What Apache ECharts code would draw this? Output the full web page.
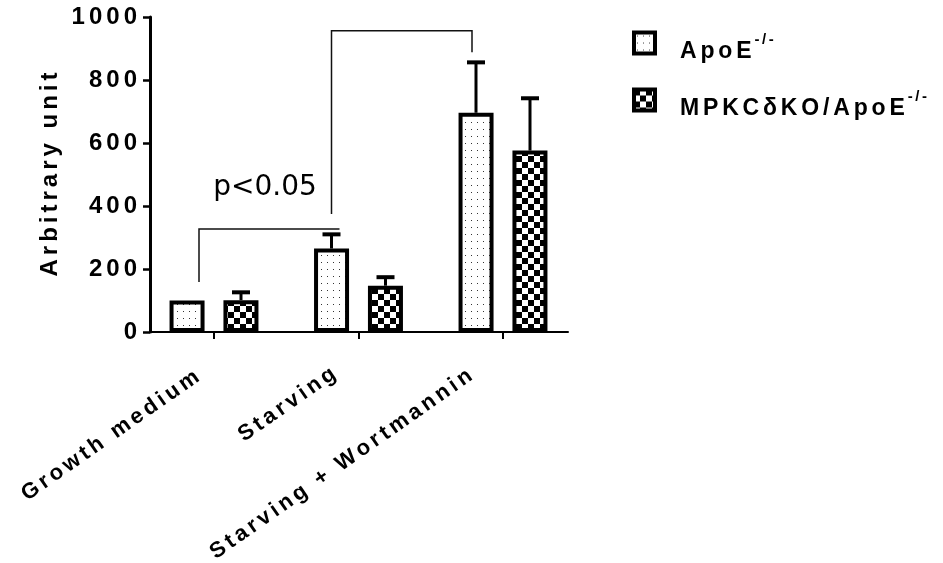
<!DOCTYPE html>
<html>
<head>
<meta charset="utf-8">
<script src="https://cdn.jsdelivr.net/npm/echarts@6/dist/echarts.min.js"></script>
<style>
  html, body { margin: 0; padding: 0; background: #fff; }
  #chart { width: 943px; height: 563px; }
</style>
</head>
<body>
<div id="chart"></div>
<script>
// Groups along the x axis
const categories = ['Growth medium', 'Starving', 'Starving + Wortmannin'];
// Genotypes
const seriesNames = ['ApoE', 'MPKCδKO/ApoE'];
const superscript = '-/-';
// Means and upper error (SEM) per group
const apoeMean = [100, 265, 696];
const apoeErr = [0, 45, 160];
const koMean = [101, 147, 576];
const koErr = [25, 27, 166];
// Value axis
const yMin = 0, yMax = 1000, yStep = 200;
const yTitle = 'Arbitrary unit';
// Significance brackets: [fromGroup, toGroup, barLevel, leftFoot, rightFoot]
const brackets = [
  [0, 1, 327, 159, null],
  [1, 2, 956, 375, 888]
];
const sigText = 'p<0.05';
const sigLevel = 457;

// GraphPad-style wide tracking via six-per-em spaces
const spaced = s => s.split('').join('\u2006');
const FONT = 'Liberation Sans, Arial, sans-serif';

// Per-label nudge for the slanted group names:
// right padding slides a name along its baseline, a spacer line lifts it
const labelSlide = [14.5, 19.3, 27];
const labelLift = [18, 32, 38];

function dotPattern() {
  const c = document.createElement('canvas');
  c.width = 6; c.height = 7;
  const g = c.getContext('2d');
  g.fillStyle = '#fff'; g.fillRect(0, 0, 6, 7);
  g.fillStyle = '#333'; g.fillRect(3, 3, 1, 1);
  return { image: c, repeat: 'repeat' };
}
function checkerPattern() {
  const c = document.createElement('canvas');
  c.width = 12; c.height = 12;
  const g = c.getContext('2d');
  g.fillStyle = '#fff'; g.fillRect(0, 0, 12, 12);
  g.fillStyle = '#000'; g.fillRect(0, 0, 6, 6); g.fillRect(6, 6, 6, 6);
  return { image: c, repeat: 'repeat' };
}

const BAR_W = 35;
const BAR_OFFSET = 27; // half distance between the two bar centres in a group

function errorSeries(mean, err, dir) {
  return {
    type: 'custom',
    xAxisIndex: 0, yAxisIndex: 0,
    z: 1,
    silent: true,
    data: mean.map((m, i) => [i, m, err[i]]),
    renderItem: function (params, api) {
      const e = api.value(2);
      if (!e) return { type: 'group', children: [] };
      const p0 = api.coord([api.value(0), api.value(1)]);
      const p1 = api.coord([api.value(0), api.value(1) + e]);
      const x = p0[0] + dir * BAR_OFFSET;
      return {
        type: 'group',
        children: [
          { type: 'line', shape: { x1: x, y1: p0[1], x2: x, y2: p1[1] }, style: { stroke: '#000', lineWidth: 3 } },
          { type: 'line', shape: { x1: x - 9, y1: p1[1], x2: x + 9, y2: p1[1] }, style: { stroke: '#000', lineWidth: 4 } }
        ]
      };
    }
  };
}

const labelRich = {};
labelLift.forEach((h, i) => { labelRich['g' + i] = { lineHeight: h, fontSize: 10 }; });

const chart = echarts.init(document.getElementById('chart'), null, { renderer: 'canvas' });

chart.setOption({
  animation: false,
  backgroundColor: '#fff',
  grid: [
    { left: 141.75, top: 17, width: 433.5, height: 315, outerBoundsMode: 'none', containLabel: false },
    { left: 150, top: 17, width: 418, height: 315, outerBoundsMode: 'none', containLabel: false }
  ],
  xAxis: [
    {
      type: 'category', gridIndex: 0,
      data: categories.map((c, i) => ({ value: c, textStyle: { padding: [0, labelSlide[i], 0, 0] } })),
      axisLine: { show: false },
      axisTick: { show: true, alignWithLabel: true, length: 7, lineStyle: { color: '#000', width: 2 } },
      axisLabel: {
        rotate: 35, margin: 42, interval: 0,
        fontFamily: FONT, fontWeight: 'bold', fontSize: 22, color: '#000',
        formatter: (v, i) => spaced(v) + '\n{g' + i + '| }',
        rich: labelRich
      },
      splitLine: { show: false }
    },
    {
      type: 'value', gridIndex: 1, min: 0, max: 1,
      axisLine: { show: true, onZero: false, lineStyle: { color: '#000', width: 2 } },
      axisTick: { show: false }, axisLabel: { show: false }, splitLine: { show: false }
    }
  ],
  yAxis: [
    { type: 'value', gridIndex: 0, min: yMin, max: yMax, interval: yStep, show: false },
    {
      type: 'value', gridIndex: 1, min: yMin, max: yMax, interval: yStep,
      name: spaced(yTitle), nameLocation: 'middle', nameGap: 88, nameRotate: 90,
      nameTextStyle: { fontFamily: FONT, fontWeight: 'bold', fontSize: 24, color: '#000' },
      axisLine: { show: true, lineStyle: { color: '#000', width: 3 } },
      axisTick: { show: true, length: 7, lineStyle: { color: '#000', width: 2.5 } },
      axisLabel: {
        margin: 13, fontFamily: FONT, fontWeight: 'bold', fontSize: 24, color: '#000',
        formatter: v => spaced(String(v))
      },
      splitLine: { show: false }
    }
  ],
  legend: {
    data: seriesNames,
    orient: 'vertical',
    left: 632, top: 30.5,
    padding: 0,
    itemGap: 24,
    itemWidth: 21, itemHeight: 21,
    icon: 'rect',
    selectedMode: false,
    itemStyle: { borderColor: '#000', borderWidth: 4 },
    formatter: name => '{b|' + spaced(name) + '}{s|' + spaced(superscript) + '}',
    textStyle: {
      padding: [18, 0, 0, 20],
      rich: {
        b: { fontFamily: FONT, fontWeight: 'bold', fontSize: 23, color: '#000', lineHeight: 40 },
        s: { fontFamily: FONT, fontWeight: 'bold', fontSize: 15, color: '#000', lineHeight: 16, verticalAlign: 'top', padding: [0, 0, 0, 3] }
      }
    }
  },
  series: [
    {
      name: seriesNames[0], type: 'bar', xAxisIndex: 0, yAxisIndex: 0,
      data: apoeMean, barWidth: BAR_W, barGap: '54%',
      itemStyle: { color: dotPattern(), borderColor: '#000', borderWidth: 4 },
      emphasis: { disabled: true }, z: 2
    },
    {
      name: seriesNames[1], type: 'bar', xAxisIndex: 0, yAxisIndex: 0,
      data: koMean, barWidth: BAR_W, barGap: '54%',
      itemStyle: { color: checkerPattern(), borderColor: '#000', borderWidth: 4 },
      emphasis: { disabled: true }, z: 2
    },
    errorSeries(apoeMean, apoeErr, -1),
    errorSeries(koMean, koErr, 1),
    {
      // significance brackets and the p-value note
      type: 'custom', xAxisIndex: 0, yAxisIndex: 0, silent: true, z: 3,
      data: brackets.map((b, i) => [b[0], b[1], b[2], b[3], b[4] == null ? -1 : b[4], i]),
      renderItem: function (params, api) {
        const from = api.value(0), to = api.value(1), level = api.value(2);
        const leftFoot = api.value(3), rightFoot = api.value(4), idx = api.value(5);
        const lx = api.coord([from, level])[0] + (idx === 0 ? -15 : -27);
        const rx = api.coord([to, level])[0] + (idx === 0 ? -19 : -31);
        const y = api.coord([from, level])[1];
        const pts = [[lx, api.coord([from, leftFoot])[1]], [lx, y], [rx, y]];
        if (rightFoot >= 0) pts.push([rx, api.coord([to, rightFoot])[1]]);
        const children = [{
          type: 'polyline', shape: { points: pts },
          style: { stroke: '#111', lineWidth: 1.5, fill: null }
        }];
        if (idx === 0) {
          const tp = api.coord([from, sigLevel]);
          children.push({
            type: 'text', x: tp[0] + 51, y: tp[1],
            style: {
              text: sigText, fontFamily: 'DejaVu Sans, sans-serif', fontSize: 28,
              fill: '#000', align: 'center', verticalAlign: 'middle'
            }
          });
        }
        return { type: 'group', children: children };
      }
    }
  ]
});
</script>
</body>
</html>
